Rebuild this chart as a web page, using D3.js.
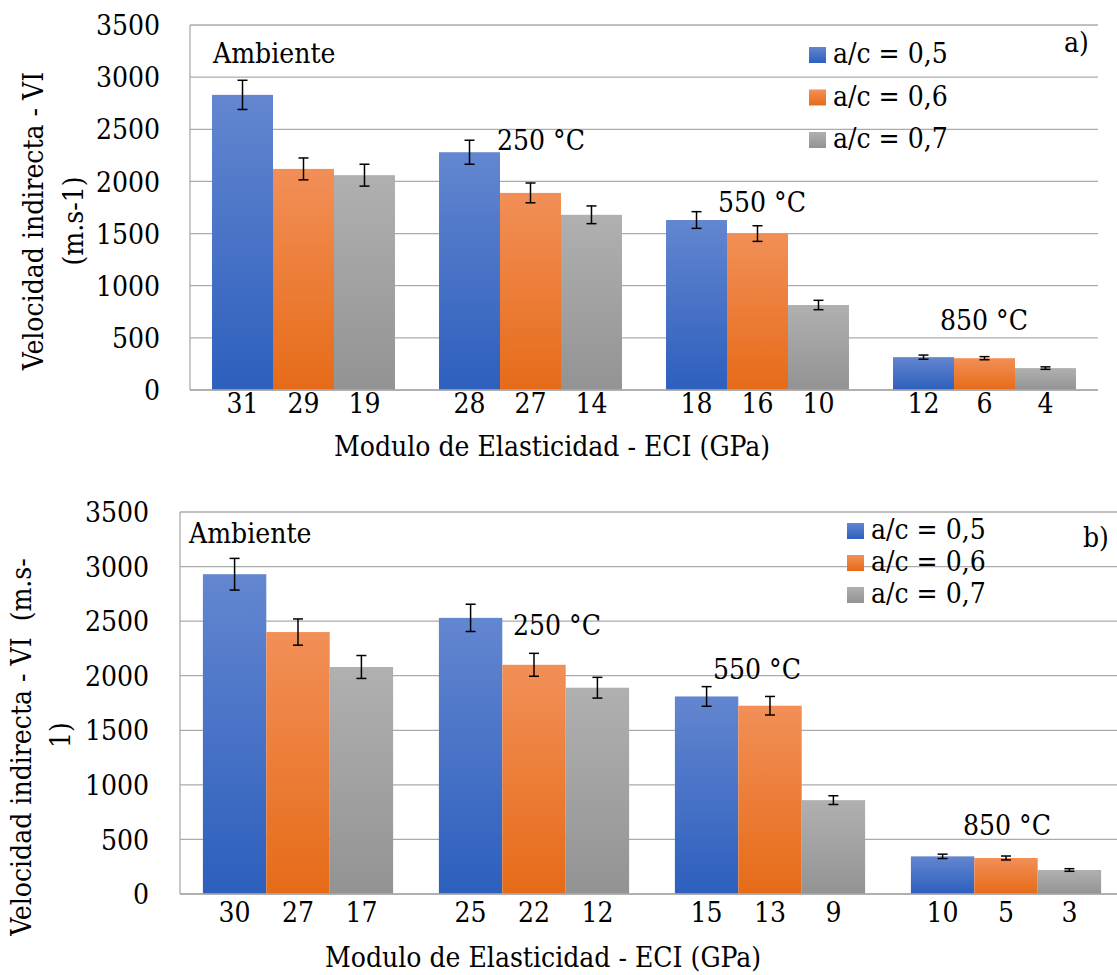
<!DOCTYPE html>
<html>
<head>
<meta charset="utf-8">
<script src="https://cdn.jsdelivr.net/npm/d3@7"></script>
<style>
  body { margin: 0; background: #fff; }
  svg { font-stretch: condensed; }
</style>
</head>
<body>
<svg id="chart" width="1117" height="975"></svg>
<script>
// temperature groups and water/cement series
var groups = ["Ambiente", "250 °C", "550 °C", "850 °C"];
var series = ["a/c = 0,5", "a/c = 0,6", "a/c = 0,7"];
var yTicks = [0, 500, 1000, 1500, 2000, 2500, 3000, 3500];

// chart a)
var velA05 = [2830, 2280, 1630, 315];
var velA06 = [2120, 1890, 1500, 305];
var velA07 = [2060, 1680, 815, 210];
var errA05 = [140, 115, 80, 20];
var errA06 = [105, 95, 75, 15];
var errA07 = [105, 85, 45, 12];
var eciA05 = ["31", "28", "18", "12"];
var eciA06 = ["29", "27", "16", "6"];
var eciA07 = ["19", "14", "10", "4"];

// chart b)
var velB05 = [2930, 2530, 1810, 345];
var velB06 = [2400, 2100, 1725, 330];
var velB07 = [2080, 1890, 860, 220];
var errB05 = [145, 125, 90, 20];
var errB06 = [120, 105, 85, 18];
var errB07 = [105, 95, 40, 12];
var eciB05 = ["30", "25", "15", "10"];
var eciB06 = ["27", "22", "13", "5"];
var eciB07 = ["17", "12", "9", "3"];

var colors = [
    {top: "#6386d0", bottom: "#2d5fbd"},
    {top: "#f28f57", bottom: "#e66b18"},
    {top: "#b0b0b0", bottom: "#939393"}
];

var FONT = 28;
var svg = d3.select("#chart")
    .attr("font-family", "'DejaVu Serif Condensed', 'DejaVu Serif', serif")
    .attr("font-size", FONT);

var defs = svg.append("defs");
colors.forEach(function(c, i) {
    var g = defs.append("linearGradient")
        .attr("id", "grad" + i)
        .attr("x1", 0).attr("y1", 0).attr("x2", 0).attr("y2", 1);
    g.append("stop").attr("offset", "0%").attr("stop-color", c.top);
    g.append("stop").attr("offset", "100%").attr("stop-color", c.bottom);
});

function drawChart(cfg) {
    var rows = [];
    groups.forEach(function(g, gi) {
        cfg.vals.forEach(function(v, si) {
            rows.push({group: g, gi: gi, si: si, value: v[gi], err: cfg.errs[si][gi], label: cfg.labels[si][gi]});
        });
    });

    var x0 = d3.scaleBand()
        .domain(groups)
        .range([cfg.left, cfg.right])
        .paddingInner(0.194)
        .paddingOuter(0.097);

    var x1 = d3.scaleBand()
        .domain(d3.range(series.length))
        .range([0, x0.bandwidth()]);

    var y = d3.scaleLinear()
        .domain([0, 3500])
        .range([cfg.bottom, cfg.top]);

    var root = svg.append("g");

    // gridlines
    root.selectAll("line.grid")
        .data(yTicks)
        .enter()
        .append("line")
        .attr("x1", cfg.left)
        .attr("x2", cfg.right)
        .attr("y1", function(d) { return y(d); })
        .attr("y2", function(d) { return y(d); })
        .attr("stroke", "#ababab")
        .attr("stroke-width", 1.3);

    root.append("line")
        .attr("x1", cfg.left).attr("x2", cfg.left)
        .attr("y1", y(3500)).attr("y2", y(0))
        .attr("stroke", "#ababab")
        .attr("stroke-width", 1.3);

    // y tick labels
    root.selectAll("text.ytick")
        .data(yTicks)
        .enter()
        .append("text")
        .attr("x", cfg.yLabelX)
        .attr("y", function(d) { return y(d); })
        .attr("dy", "0.36em")
        .attr("text-anchor", "end")
        .text(function(d) { return d; });

    // bars
    root.selectAll("rect.bar")
        .data(rows)
        .enter()
        .append("rect")
        .attr("x", function(d) { return x0(d.group) + x1(d.si); })
        .attr("y", function(d) { return y(d.value); })
        .attr("width", x1.bandwidth())
        .attr("height", function(d) { return y(0) - y(d.value); })
        .attr("fill", function(d) { return "url(#grad" + d.si + ")"; });

    root.append("line")
        .attr("x1", cfg.left).attr("x2", cfg.right)
        .attr("y1", y(0)).attr("y2", y(0))
        .attr("stroke", "#ababab")
        .attr("stroke-width", 1.3);

    // error bars
    var eb = root.selectAll("g.err")
        .data(rows)
        .enter()
        .append("g")
        .attr("stroke", "#000")
        .attr("stroke-width", 1.5);
    function cx(d) { return x0(d.group) + x1(d.si) + x1.bandwidth() / 2; }
    eb.append("line")
        .attr("x1", cx).attr("x2", cx)
        .attr("y1", function(d) { return y(d.value + d.err); })
        .attr("y2", function(d) { return y(d.value - d.err); });
    [1, -1].forEach(function(s) {
        eb.append("line")
            .attr("x1", function(d) { return cx(d) - 5; })
            .attr("x2", function(d) { return cx(d) + 5; })
            .attr("y1", function(d) { return y(d.value + s * d.err); })
            .attr("y2", function(d) { return y(d.value + s * d.err); });
    });

    // x tick labels (one per bar)
    root.selectAll("text.xtick")
        .data(rows)
        .enter()
        .append("text")
        .attr("x", cx)
        .attr("y", cfg.bottom + cfg.xLabelDy)
        .attr("text-anchor", "middle")
        .text(function(d) { return d.label; });

    // group annotations
    groups.forEach(function(g, i) {
        root.append("text")
            .attr("x", cfg.left + cfg.ann[i][0])
            .attr("y", cfg.top + cfg.ann[i][1])
            .text(g);
    });

    root.append("text")
        .attr("x", cfg.tag[0])
        .attr("y", cfg.tag[1])
        .text(cfg.tagText);

    // legend
    series.forEach(function(s, i) {
        var by = cfg.legend.y + i * cfg.legend.step;
        root.append("rect")
            .attr("x", cfg.legend.x)
            .attr("y", by - 16)
            .attr("width", 17)
            .attr("height", 16)
            .attr("fill", "url(#grad" + i + ")");
        root.append("text")
            .attr("x", cfg.legend.x + 24)
            .attr("y", by)
            .text(s);
    });

    // axis titles
    root.append("text")
        .attr("x", cfg.xTitle[0])
        .attr("y", cfg.xTitle[1])
        .attr("text-anchor", "middle")
        .text("Modulo de Elasticidad - ECI (GPa)");

    cfg.yTitle.forEach(function(t) {
        root.append("text")
            .attr("transform", "translate(" + t[1] + "," + t[2] + ") rotate(-90)")
            .attr("text-anchor", "middle")
            .style("white-space", "pre")
            .text(t[0]);
    });
}

drawChart({
    left: 190, right: 1098, top: 25, bottom: 390,
    vals: [velA05, velA06, velA07],
    errs: [errA05, errA06, errA07],
    labels: [eciA05, eciA06, eciA07],
    yLabelX: 160, xLabelDy: 23,
    ann: [[23, 38], [307, 125], [528, 187], [750, 305]],
    tag: [1064, 52], tagText: "a)",
    legend: {x: 809, y: 63, step: 42.5},
    xTitle: [552, 456],
    yTitle: [["Velocidad indirecta - VI", 43, 221], ["(m.s-1)", 83, 221]]
});

drawChart({
    left: 180, right: 1124, top: 512, bottom: 894,
    vals: [velB05, velB06, velB07],
    errs: [errB05, errB06, errB07],
    labels: [eciB05, eciB06, eciB07],
    yLabelX: 149, xLabelDy: 28,
    ann: [[9, 31], [333, 123], [533, 167], [783, 323]],
    tag: [1083, 547], tagText: "b)",
    legend: {x: 847, y: 539, step: 32},
    xTitle: [543, 967],
    yTitle: [["Velocidad indirecta - VI  (m.s-", 31, 747], ["1)", 70, 735]]
});
</script>
</body>
</html>
